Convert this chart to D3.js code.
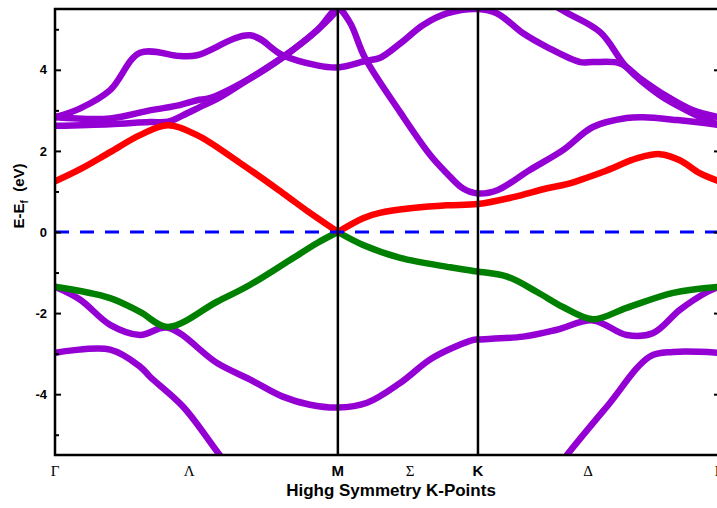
<!DOCTYPE html>
<html>
<head>
<meta charset="utf-8">
<script src="https://cdn.jsdelivr.net/npm/d3@7"></script>
<style>
  body { margin: 0; background: #fff; }
  svg { display: block; }
  text { font-family: "Liberation Sans", Arial, sans-serif; }
</style>
</head>
<body>
<div class="bands"></div>
<script>
// k path: Γ - M - K - Γ (fraction of path length)
var kTicks = [0, 0.202, 0.426, 0.535, 0.637, 0.803, 1.0];
var kLabels = ["Γ", "Λ", "M", "Σ", "K", "Δ", "Γ"];
var kGreek = [true, true, false, true, false, true, true];
var symLines = [0.426, 0.637];
var kM = 0.426;

var yMajor = [-4, -2, 0, 2, 4];
var yMinor = [-5, -3, -1, 1, 3, 5];

// bands as [k, E - Ef]
var condBand = [[0,1.25],[0.038,1.55],[0.083,1.97],[0.128,2.39],[0.170,2.63],[0.214,2.39],[0.279,1.70],
  [0.343,0.96],[0.384,0.47],[0.426,0],[0.464,0.34],[0.489,0.47],[0.539,0.59],[0.590,0.66],[0.637,0.69],
  [0.690,0.86],[0.741,1.08],[0.771,1.18],[0.825,1.48],[0.877,1.82],[0.911,1.92],[0.941,1.77],[0.971,1.45],[1.0,1.25]];

var valBand = [[0,-1.35],[0.083,-1.63],[0.128,-1.97],[0.170,-2.34],[0.244,-1.72],[0.294,-1.30],[0.354,-0.69],
  [0.395,-0.27],[0.426,0],[0.464,-0.32],[0.520,-0.64],[0.595,-0.87],[0.630,-0.96],[0.681,-1.10],[0.726,-1.48],
  [0.765,-1.85],[0.810,-2.15],[0.861,-1.87],[0.931,-1.50],[1.0,-1.35]];

var otherBands = [
  [[0,-1.35],[0.038,-1.67],[0.083,-2.29],[0.128,-2.54],[0.170,-2.36],[0.244,-3.23],[0.294,-3.64],[0.343,-4.06],
   [0.384,-4.26],[0.426,-4.33],[0.470,-4.21],[0.520,-3.72],[0.569,-3.10],[0.630,-2.66],[0.637,-2.65],[0.705,-2.58],
   [0.756,-2.41],[0.810,-2.18],[0.861,-2.54],[0.901,-2.49],[0.941,-1.92],[0.982,-1.48],[1.0,-1.35]],
  [[0,-2.98],[0.083,-2.90],[0.128,-3.32],[0.143,-3.57],[0.193,-4.31],[0.248,-5.5],[0.309,-6.8],[0.5,-7.5],
   [0.711,-6.8],[0.771,-5.5],[0.831,-4.31],[0.896,-3.07],[0.931,-2.96],[1.0,-2.98]],
  [[0,2.83],[0.038,3.05],[0.083,3.5],[0.128,4.42],[0.188,4.34],[0.214,4.36],[0.294,4.85],[0.343,4.36],[0.395,4.11],
   [0.426,4.06],[0.470,4.23],[0.489,4.29],[0.520,4.65],[0.554,5.1],[0.590,5.39],[0.637,5.5],[0.666,5.39],[0.705,4.9],
   [0.741,4.56],[0.791,4.19],[0.810,4.19],[0.851,4.16],[0.881,3.79],[0.919,3.37],[0.961,3.0],[1.0,2.83]],
  [[0,2.83],[0.083,2.80],[0.143,3.0],[0.188,3.13],[0.214,3.25],[0.233,3.3],[0.294,3.79],[0.343,4.31],[0.395,4.98],
   [0.426,5.5],[0.444,5.17],[0.467,4.29],[0.520,2.95],[0.565,1.9],[0.590,1.45],[0.614,1.08],[0.637,0.95],[0.666,1.03],
   [0.715,1.53],[0.765,2.02],[0.810,2.59],[0.861,2.81],[0.886,2.83],[0.937,2.76],[1.0,2.64]],
  [[0,2.62],[0.083,2.66],[0.143,2.71],[0.170,2.72],[0.193,2.88],[0.218,3.08],[0.244,3.28],[0.294,3.79],[0.343,4.31],
   [0.395,4.98],[0.426,5.5],[0.45,6.2]],
  [[0.70,6.2],[0.761,5.5],[0.821,4.93],[0.861,4.06],[0.911,3.37],[0.956,2.96],[1.0,2.64]]
];

var W = 717, H = 508;
var xLeft = 55, xRight = 719, yTop = 9, yBottom = 455;

var x = d3.scaleLinear().domain([0, 1]).range([xLeft, xRight]);
var y = d3.scaleLinear().domain([-5.5, 5.5]).range([yBottom, yTop]);

var line = d3.line()
  .x(function(d) { return x(d[0]); })
  .y(function(d) { return y(d[1]); })
  .curve(d3.curveCatmullRom.alpha(0.5));

// break a band at a k point so the curve keeps its cusp there
var splitAt = function(band, k) {
  var a = band.filter(function(d) { return d[0] <= k; });
  var b = band.filter(function(d) { return d[0] >= k; });
  return line(a) + line(b);
};

var svg = d3.select(".bands").append("svg")
  .attr("width", W)
  .attr("height", H);

svg.append("rect").attr("width", W).attr("height", H).attr("fill", "#fff");

svg.append("clipPath").attr("id", "plot-clip")
  .append("rect")
  .attr("x", xLeft).attr("y", yTop)
  .attr("width", xRight - xLeft).attr("height", yBottom - yTop);

var plot = svg.append("g").attr("clip-path", "url(#plot-clip)");

plot.selectAll(".other")
  .data(otherBands)
  .enter().append("path")
  .attr("class", "other")
  .attr("d", line)
  .attr("fill", "none")
  .attr("stroke", "#9400d3")
  .attr("stroke-width", 6.5)
  .attr("stroke-linejoin", "round");

plot.append("path")
  .attr("d", splitAt(valBand, kM))
  .attr("fill", "none")
  .attr("stroke", "#008000")
  .attr("stroke-width", 6.5)
  .attr("stroke-linejoin", "round");

plot.append("path")
  .attr("d", splitAt(condBand, kM))
  .attr("fill", "none")
  .attr("stroke", "#ff0000")
  .attr("stroke-width", 6.5)
  .attr("stroke-linejoin", "round");

// Fermi level
plot.append("line")
  .attr("x1", xLeft).attr("x2", xRight)
  .attr("y1", y(0)).attr("y2", y(0))
  .attr("stroke", "#0000ff")
  .attr("stroke-width", 3)
  .attr("stroke-dasharray", "14,11");

svg.selectAll(".sym")
  .data(symLines)
  .enter().append("line")
  .attr("class", "sym")
  .attr("x1", function(d) { return x(d); })
  .attr("x2", function(d) { return x(d); })
  .attr("y1", yTop).attr("y2", yBottom)
  .attr("stroke", "#000")
  .attr("stroke-width", 2.5);

// frame
svg.append("rect")
  .attr("x", xLeft).attr("y", yTop)
  .attr("width", xRight - xLeft).attr("height", yBottom - yTop)
  .attr("fill", "none")
  .attr("stroke", "#000")
  .attr("stroke-width", 2.5);

// y axis, ticks pointing inward
var yAxis = d3.axisLeft(y).tickValues(yMajor).tickSize(-6).tickPadding(8)
  .tickFormat(function(d) { return String(d); });
var yAxisG = svg.append("g").attr("transform", "translate(" + xLeft + ",0)").call(yAxis);
yAxisG.select(".domain").remove();
yAxisG.selectAll("line").attr("stroke-width", 2);
yAxisG.selectAll("text")
  .attr("font-family", "'Liberation Sans', Arial, sans-serif")
  .attr("font-weight", "bold")
  .attr("font-size", 13)
  .attr("fill", "#000");

var yMinorG = svg.append("g").attr("transform", "translate(" + xLeft + ",0)")
  .call(d3.axisLeft(y).tickValues(yMinor).tickSize(-4).tickFormat(""));
yMinorG.select(".domain").remove();
yMinorG.selectAll("line").attr("stroke-width", 2);

var yRightG = svg.append("g").attr("transform", "translate(" + xRight + ",0)")
  .call(d3.axisRight(y).tickValues(yMajor).tickSize(-5).tickFormat(""));
yRightG.select(".domain").remove();
yRightG.selectAll("line").attr("stroke-width", 2);

// k-point labels
svg.selectAll(".klabel")
  .data(kTicks)
  .enter().append("text")
  .attr("class", "klabel")
  .attr("x", function(d) { return x(d); })
  .attr("y", 476)
  .attr("text-anchor", "middle")
  .style("font-family", function(d, i) { return kGreek[i] ? "'Liberation Serif', 'Times New Roman', serif" : "'Liberation Sans', Arial, sans-serif"; })
  .style("font-weight", function(d, i) { return kGreek[i] ? "normal" : "bold"; })
  .style("font-size", "15px")
  .text(function(d, i) { return kLabels[i]; });

svg.append("text")
  .attr("x", 391)
  .attr("y", 496)
  .attr("text-anchor", "middle")
  .style("font-weight", "bold")
  .style("font-size", "17px")
  .text("Highg Symmetry K-Points");

var yTitle = svg.append("text")
  .attr("transform", "translate(24,196) rotate(-90)")
  .attr("text-anchor", "middle")
  .style("font-weight", "bold")
  .style("font-size", "15px");
yTitle.append("tspan").text("E-E");
yTitle.append("tspan").attr("dy", 4).style("font-size", "10px").text("f");
yTitle.append("tspan").attr("dy", -4).style("white-space", "pre").text("  (eV)");
</script>
</body>
</html>
